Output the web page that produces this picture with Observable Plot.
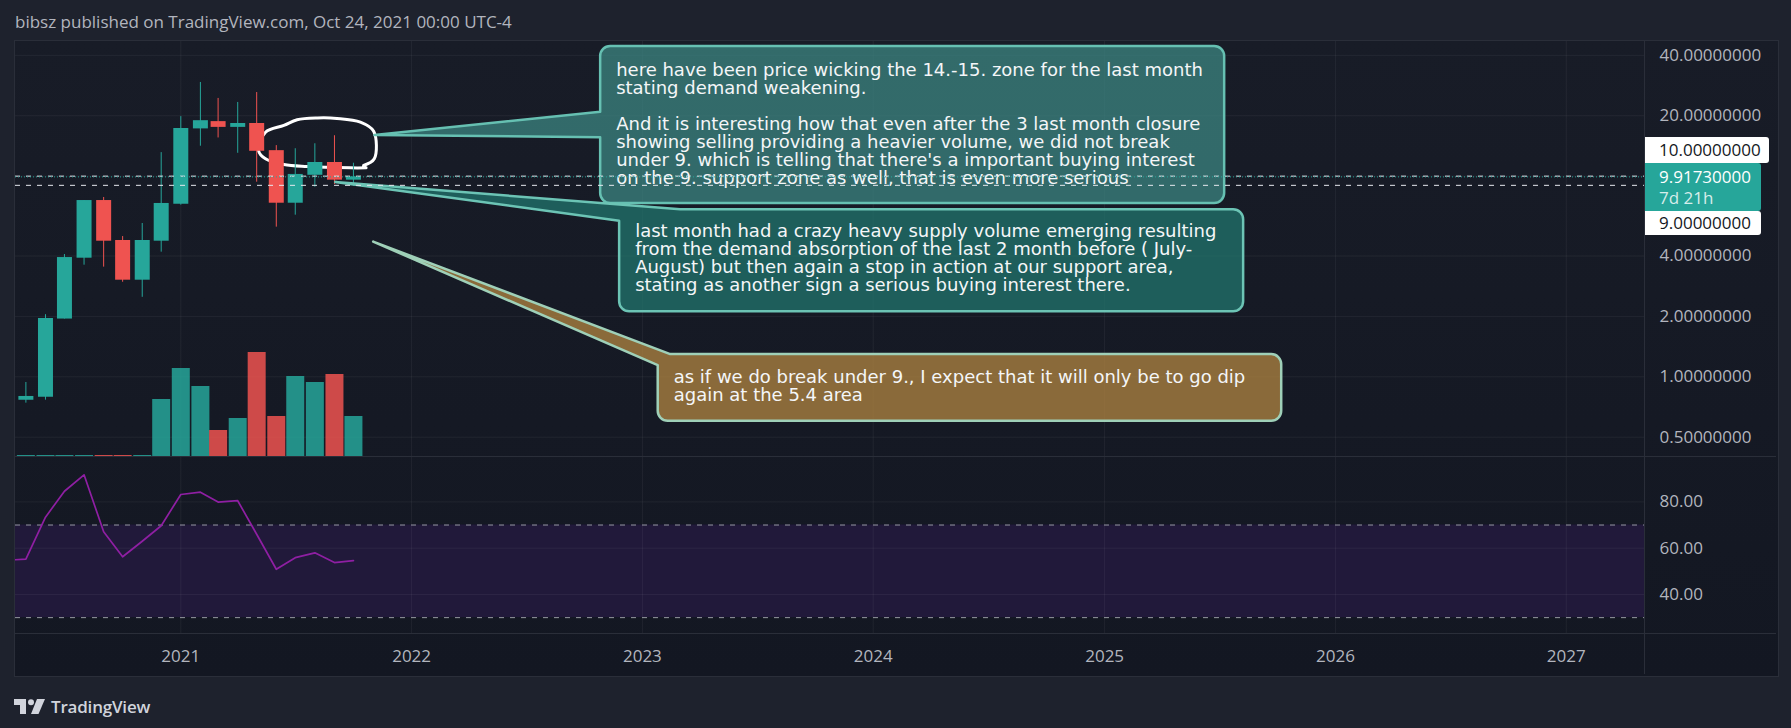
<!DOCTYPE html>
<html><head><meta charset="utf-8">
<script src="https://cdn.jsdelivr.net/npm/d3@7"></script>
<script src="https://cdn.jsdelivr.net/npm/@observablehq/plot@0.6"></script>
<style>
html,body{margin:0;padding:0;background:#1e222d;width:1791px;height:728px;overflow:hidden;font-family:"Open Sans",sans-serif;}
#root{position:relative;width:1791px;height:728px;}
.abs{position:absolute;}
#panel{position:absolute;left:14px;top:40px;width:1763px;height:635px;border:1px solid #2a2e39;background:linear-gradient(#181c27,#131722);}
.sep{position:absolute;background:#2a2e39;}
.note{position:absolute;white-space:pre;font-family:"DejaVu Sans",sans-serif;font-size:18px;line-height:18px;color:#f4f6f8;box-sizing:border-box;}
.lbl{position:absolute;box-sizing:border-box;padding-left:15px;font-size:17px;border-radius:0 3px 3px 0;}
</style></head>
<body><div id="root">
<div class="abs" style="left:15px;top:12px;font-size:17px;line-height:20px;color:#b2b5be;">bibsz published on TradingView.com, Oct 24, 2021 00:00 UTC-4</div>
<div id="panel"></div>
<div class="abs" style="left:14px;top:695px;display:flex;align-items:center;gap:4px;">
<svg width="33" height="15" viewBox="0 0 33 15"><path d="M0 0H12V15H6V6H0Z" fill="#d1d4dc"/><circle cx="17" cy="3.2" r="3" fill="#d1d4dc"/><path d="M23 0H31L24.5 15H17Z" fill="#d1d4dc"/></svg>
<span style="font-size:17px;font-weight:600;color:#d1d4dc;letter-spacing:-0.2px;">TradingView</span>
</div>
</div>
<script>
// ---------------- data ----------------
const months = ["2020-05","2020-06","2020-07","2020-08","2020-09","2020-10","2020-11","2020-12","2021-01","2021-02","2021-03","2021-04","2021-05","2021-06","2021-07","2021-08","2021-09","2021-10"];
const open   = [0.764,0.791,1.94,3.90,7.56,4.78,3.03,4.74,7.25,17.2,18.7,17.5,18.3,13.4,7.33,10.1,11.7,9.55];
const high   = [0.937,2.04,4.07,7.56,7.83,5.00,5.81,13.1,19.8,29.3,24.4,23.3,26.1,14.2,13.7,14.5,15.9,11.6];
const low    = [0.739,0.765,1.94,3.60,3.52,2.96,2.49,4.18,7.17,14.1,15.5,13.0,9.33,5.57,6.39,8.81,9.09,8.91];
const close  = [0.798,1.95,3.93,7.56,4.74,3.03,4.78,7.31,17.3,18.9,17.5,18.3,13.3,7.33,10.2,11.7,9.55,9.9173];
const volume = [0.1,0.1,0.1,0.1,0.1,0.1,0.1,5.7,8.8,7.0,2.6,3.8,10.4,4.0,8.0,7.4,8.2,4.0];
const rsiMonths = ["2020-04","2020-05","2020-06","2020-07","2020-08","2020-09","2020-10","2020-11","2020-12","2021-01","2021-02","2021-03","2021-04","2021-05","2021-06","2021-07","2021-08","2021-09","2021-10"];
const rsi = [54.8,55.3,73.4,84.6,91.7,67.1,56.3,63.0,69.7,83.2,84.2,79.9,80.5,66.0,50.9,55.9,58.0,53.8,54.6];
const yearTicks = ["2021","2022","2023","2024","2025","2026","2027"];
const priceTicks = [0.5,1,2,4,10,20,40];        // grid lines
const priceLabelTicks = [0.5,1,2,4,20,40];      // visible axis labels (10 is covered by the price labels)
const rsiTicks = [40,60,80];
const rsiBand = [30,70];
const levelLines = [10,9];
const lastPrice = 9.9173;
const countdown = "7d 21h";
// hand-drawn ellipse (date, price)
const ellipseDates  = ["2021-10-21","2021-09-26","2021-07-20","2021-06-13","2021-05-15","2021-05-04","2021-05-15","2021-06-13","2021-07-04","2021-08-05","2021-09-05","2021-10-12","2021-11-02","2021-11-03","2021-10-17"];
const ellipsePrices = [11.0,11.0,11.17,11.43,12.2,13.4,16.56,17.9,19.1,19.5,19.4,18.6,16.75,12.2,11.3];
// callouts
const noteTexts = [
"here have been price wicking the 14.-15. zone for the last month\nstating demand weakening.\n\nAnd it is interesting how that even after the 3 last month closure\nshowing selling providing a heavier volume, we did not break\nunder 9. which is telling that there's a important buying interest\non the 9. support zone as well, that is even more serious",
"last month had a crazy heavy supply volume emerging resulting\nfrom the demand absorption of the last 2 month before ( July-\nAugust) but then again a stop in action at our support area,\nstating as another sign a serious buying interest there.",
"as if we do break under 9., I expect that it will only be to go dip\nagain at the 5.4 area"];
const noteBoxDates  = ["2022-10-27","2022-11-26","2023-01-26"];
const noteBoxPrices = [44.3,6.8,1.29];
const noteTipDates  = ["2021-11-04","2021-09-03","2021-11-02"];
const noteTipPrices = [15.95,9.3,4.69];

// ---------------- layout ----------------
const parseM = d3.utcParse("%Y-%m"), parseD = d3.utcParse("%Y-%m-%d"), parseY = d3.utcParse("%Y");
const candles = months.map((m,i)=>({date:parseM(m),open:open[i],high:high[i],low:low[i],close:close[i],vol:volume[i],up:close[i]>=open[i]}));
const rsiData = rsiMonths.map((m,i)=>({date:parseM(m),v:rsi[i]}));
const yearDates = yearTicks.map(parseY);
const ellipse = ellipseDates.map((d,i)=>({date:parseD(d),p:ellipsePrices[i]}));

const UP="#26a69a", DOWN="#ef5350";
const L=15, T=41, W=1761, PLOTW=1629, MR=W-PLOTW;
const t2021 = Date.UTC(2021,0,1), msPerPx = (Date.UTC(2022,0,1)-t2021)/230.8;
const xDomain = [new Date(t2021-165.3*msPerPx), new Date(t2021+(PLOTW-165.3)*msPerPx)];
const PH=415, oneY=335.3, perDouble=60.4;
const yDomain = [Math.pow(2,(oneY-PH)/perDouble), Math.pow(2,oneY/perDouble)];
const gridStyle = {stroke:"#ffffff", strokeOpacity:0.055};
const baseStyle = {fontFamily:"'Open Sans',sans-serif",fontSize:"17px",color:"#b2b5be",background:"transparent",overflow:"visible"};
const root = document.getElementById("root");
function place(el,left,top){el.style.position="absolute";el.style.left=left+"px";el.style.top=top+"px";root.appendChild(el);return el;}

// price pane
const price = Plot.plot({
  width:W,height:PH,marginLeft:0,marginRight:MR,marginTop:0,marginBottom:0,style:baseStyle,
  x:{type:"utc",domain:xDomain,axis:null},
  y:{type:"log",domain:yDomain,axis:"right",ticks:priceLabelTicks,tickFormat:d3.format(".8f"),tickSize:0,tickPadding:15,label:null},
  marks:[
    Plot.ruleY(priceTicks,gridStyle),
    Plot.ruleX(yearDates,gridStyle),
    Plot.line(ellipse,{x:"date",y:"p",stroke:"#ffffff",strokeWidth:3,curve:"catmull-rom"}),
    Plot.ruleX(candles,{x:"date",y1:"low",y2:"high",stroke:d=>d.up?UP:DOWN,strokeWidth:1}),
    Plot.ruleX(candles,{x:"date",y1:"open",y2:"close",stroke:d=>d.up?UP:DOWN,strokeWidth:15})
  ]});
place(price,L,T);

// volume overlay
const vol = Plot.plot({
  width:W,height:130,marginLeft:0,marginRight:MR,marginTop:0,marginBottom:0,style:baseStyle,
  x:{type:"utc",domain:xDomain,axis:null},
  y:{domain:[0,13],axis:null},
  marks:[Plot.ruleX(candles,{x:"date",y1:0,y2:"vol",stroke:d=>d.up?UP:DOWN,strokeOpacity:0.85,strokeWidth:18})]
});
place(vol,L,456-130);

// callouts
const xs = price.scale("x"), ys = price.scale("y");
const X = d=>L+xs.apply(d), Y = v=>T+ys.apply(v);
const noteStyle = [
  {w:624,h:157,fill:"rgba(60,134,130,0.75)",stroke:"#66c0b2",ptr:"left",a:65.7,b:91.3,pad:"15px 0 0 16px"},
  {w:624,h:102,fill:"rgba(34,117,110,0.75)",stroke:"#6cc4b5",ptr:"corner",a:61,b:11.4,pad:"13px 0 0 16px"},
  {w:623.5,h:66.7,fill:"rgba(178,134,65,0.75)",stroke:"#9fd0b8",ptr:"corner",a:12.5,b:11,pad:"14px 0 0 16px"}];
const ov = d3.create("svg").attr("width",1791).attr("height",728).style("position","absolute").style("left","0px").style("top","0px");
noteTexts.forEach((txt,i)=>{
  const s=noteStyle[i], x=X(parseD(noteBoxDates[i])), y=Y(noteBoxPrices[i]);
  const tx=X(parseD(noteTipDates[i])), ty=Y(noteTipPrices[i]), r=10, w=s.w, h=s.h;
  let p;
  if(s.ptr==="left"){
    p=`M${x+r},${y}H${x+w-r}A${r},${r} 0 0 1 ${x+w},${y+r}V${y+h-r}A${r},${r} 0 0 1 ${x+w-r},${y+h}H${x+r}A${r},${r} 0 0 1 ${x},${y+h-r}V${y+s.b}L${tx},${ty}L${x},${y+s.a}V${y+r}A${r},${r} 0 0 1 ${x+r},${y}Z`;
  } else {
    p=`M${x+s.a},${y}H${x+w-r}A${r},${r} 0 0 1 ${x+w},${y+r}V${y+h-r}A${r},${r} 0 0 1 ${x+w-r},${y+h}H${x+r}A${r},${r} 0 0 1 ${x},${y+h-r}V${y+s.b}L${tx},${ty}Z`;
  }
  ov.append("path").attr("d",p).attr("fill",s.fill).attr("stroke",s.stroke).attr("stroke-width",2.5).attr("stroke-linejoin","round");
});
root.appendChild(ov.node());
noteTexts.forEach((txt,i)=>{
  const s=noteStyle[i];
  const div=document.createElement("div"); div.className="note"; div.textContent=txt;
  div.style.width=s.w+"px"; div.style.height=s.h+"px"; div.style.padding=s.pad;
  place(div,X(parseD(noteBoxDates[i])),Y(noteBoxPrices[i]));
});

// level lines on top
const lines = Plot.plot({
  width:W,height:PH,marginLeft:0,marginRight:MR,marginTop:0,marginBottom:0,style:baseStyle,
  x:{type:"utc",domain:xDomain,axis:null},
  y:{type:"log",domain:yDomain,axis:null},
  marks:[
    Plot.ruleY(levelLines,{stroke:"#e6e8ee",strokeDasharray:"5,6"}),
    Plot.ruleY([lastPrice],{stroke:UP,strokeDasharray:"1,2"})
  ]});
place(lines,L,T);

// price labels on axis
const cy = Y(lastPrice);
function lbl(text,top,w,h,bg,color,extra){const d=document.createElement("div");d.className="lbl";d.innerHTML=text;d.style.width=w+"px";d.style.height=h+"px";d.style.background=bg;d.style.color=color;d.style.lineHeight=h+"px";if(extra)Object.assign(d.style,extra);return place(d,1644,top);}
lbl(d3.format(".8f")(levelLines[0]),cy-39.7,125,26.5,"#ffffff","#131722");
lbl(`<div style="line-height:21px;padding-top:3px;color:#fff">${d3.format(".8f")(lastPrice)}</div><div style="line-height:21px;color:rgba(255,255,255,0.82)">${countdown}</div>`,cy-13.4,117,47.7,UP,"#fff",{lineHeight:"normal"});
lbl(d3.format(".8f")(levelLines[1]),cy+34.3,117,24.7,"#ffffff","#131722");

// RSI + time axis
const RH=177;
const rsiPlot = Plot.plot({
  width:W,height:RH+41,marginLeft:0,marginRight:MR,marginTop:0,marginBottom:41,style:baseStyle,
  x:{type:"utc",domain:xDomain,ticks:yearDates,tickFormat:d3.utcFormat("%Y"),tickSize:0,tickPadding:16,label:null},
  y:{domain:[23.15,99.6],axis:"right",ticks:rsiTicks,tickFormat:d3.format(".2f"),tickSize:0,tickPadding:15,label:null},
  marks:[
    Plot.rect([{lo:rsiBand[0],hi:rsiBand[1]}],{y1:"lo",y2:"hi",fill:"#21193a"}),
    Plot.ruleY(rsiTicks,gridStyle),
    Plot.ruleX(yearDates,gridStyle),
    Plot.ruleY(rsiBand,{stroke:"#9598a1",strokeDasharray:"5,6"}),
    Plot.line(rsiData,{x:"date",y:"v",stroke:"#8f1fa3",strokeWidth:1.7,clip:true})
  ]});
place(rsiPlot,L,456);

// separators
function sep(l,t,w,h){const d=document.createElement("div");d.className="sep";d.style.left=l+"px";d.style.top=t+"px";d.style.width=w+"px";d.style.height=h+"px";root.appendChild(d);}
sep(15,456,1761,1); sep(15,633,1761,1); sep(1644,41,1,633);
</script>
</body></html>
